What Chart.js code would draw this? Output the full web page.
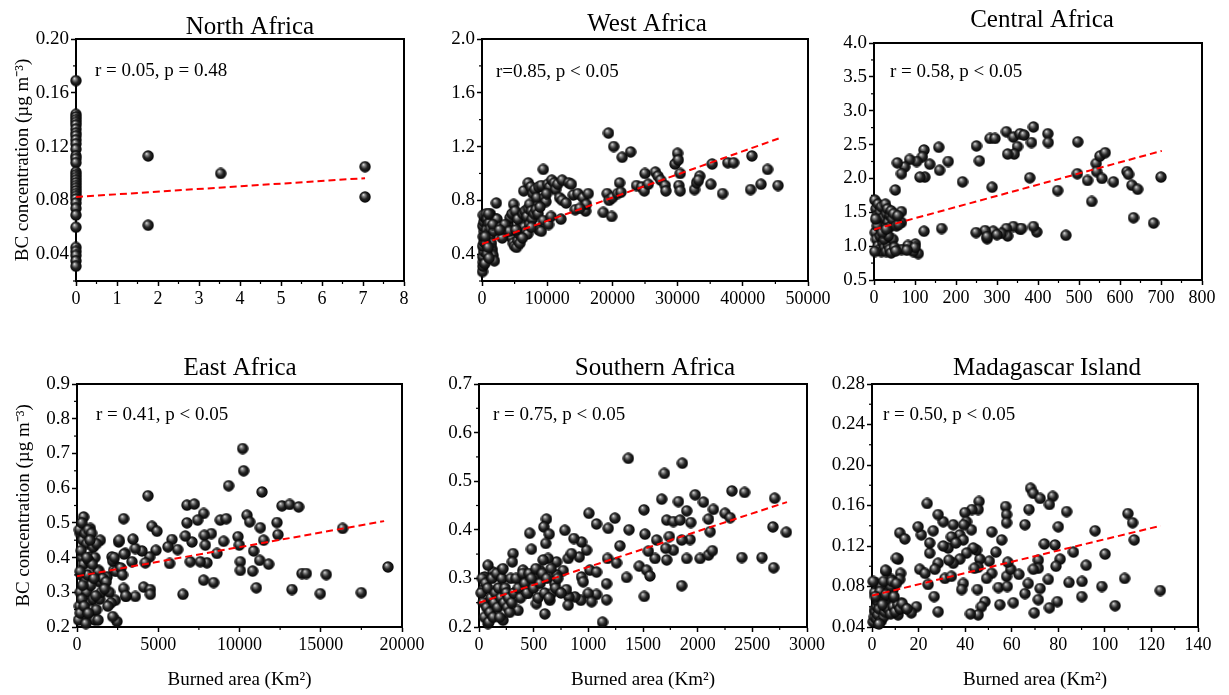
<!DOCTYPE html>
<html>
<head>
<meta charset="utf-8">
<script src="https://cdn.jsdelivr.net/npm/chart.js@4.4.1/dist/chart.umd.min.js"></script>
<style>
  body { margin: 0; background: #fff; width: 1229px; height: 695px; overflow: hidden; position: relative; }
  .panel { position: absolute; }
</style>
</head>
<body>
<div class="panel" id="w1"><canvas id="c1"></canvas></div>
<div class="panel" id="w2"><canvas id="c2"></canvas></div>
<div class="panel" id="w3"><canvas id="c3"></canvas></div>
<div class="panel" id="w4"><canvas id="c4"></canvas></div>
<div class="panel" id="w5"><canvas id="c5"></canvas></div>
<div class="panel" id="w6"><canvas id="c6"></canvas></div>
<script>
/* ---- data ---- */

// North Africa
const northArea = [0,0,0,0,0,0,0,0,0,0,
  0,0,0,0,0,0,0,0,0,0,
  0,0,0,0,0,0,0,0,0,0,
  0,0,0,0,0,
  1.76,1.76,3.53,7.05,7.05];
const northBC = [0.169,0.144,0.142,0.14,0.138,0.136,0.133,0.13,0.128,0.125,
  0.122,0.118,0.113,0.111,0.108,0.101,0.099,0.097,0.095,0.093,
  0.091,0.089,0.087,0.085,0.083,0.081,0.078,0.074,0.069,0.06,
  0.045,0.042,0.039,0.035,0.031,
  0.113,0.0615,0.100,0.105,0.0825];
const northFitArea = [0, 7.05];
const northFitBC = [0.0825, 0.0965];
const northXRange = [0, 8];
const northYRange = [0.02, 0.20];
const northXTicks = ['0','1','2','3','4','5','6','7','8'];
const northYTicks = ['0.04','0.08','0.12','0.16','0.20'];

// West Africa
const westArea = [80,150,200,120,250,100,300,180,350,120,
  280,450,200,650,800,900,700,1000,1280,1400,
  1150,1300,1250,1450,1500,1550,1700,1900,2100,2300,
  2200,1800,600,800,450,950,1100,1650,500,1000,
  2900,3300,3800,4000,4300,4600,4850,5100,4600,4800,
  5000,5300,5500,5700,5900,6100,5500,6300,6600,6900,
  7100,7300,7600,6500,6800,7000,7300,7700,8000,8300,
  8600,8700,9100,9400,6400,7100,7500,7800,8100,8400,
  8700,9100,9400,9600,9800,10100,10400,10700,11100,10200,
  10600,11300,11600,11900,12300,12300,12100,12900,13300,13700,
  14000,14300,14700,15500,15900,16300,16000,15000,18600,19900,
  19200,19500,20000,20800,21100,21300,19400,20200,21500,22800,
  23700,24500,24900,25000,25500,26600,27000,27400,28100,28200,
  29600,30000,30100,30400,30200,30400,32600,32900,33400,33200,
  35300,35100,36900,37700,38600,41200,41400,42800,43800,45400,
  3500,4200,5800,6200,7600,8900,9900,5200,3100,2700];
const westBC = [0.27,0.31,0.34,0.38,0.42,0.46,0.49,0.53,0.57,0.61,
  0.64,0.67,0.69,0.70,0.66,0.62,0.58,0.55,0.70,0.67,
  0.63,0.59,0.52,0.48,0.44,0.42,0.39,0.35,0.66,0.66,
  0.78,0.57,0.48,0.40,0.33,0.45,0.37,0.62,0.53,0.70,
  0.60,0.57,0.55,0.62,0.67,0.70,0.77,0.72,0.52,0.48,
  0.46,0.45,0.50,0.55,0.60,0.63,0.66,0.70,0.72,0.68,
  0.74,0.77,0.72,0.60,0.57,0.55,0.62,0.66,0.70,0.73,
  0.70,0.58,0.57,0.65,0.87,0.93,0.90,0.85,0.88,0.82,
  0.90,0.91,1.03,0.82,0.79,0.92,0.90,0.95,0.93,0.62,
  0.68,0.88,0.92,0.82,0.95,0.80,0.66,0.78,0.93,0.92,
  0.84,0.73,0.85,0.82,0.72,0.85,0.77,0.74,0.71,0.68,
  0.85,0.80,0.82,0.85,0.93,0.86,1.30,1.20,1.12,1.16,
  0.91,0.90,0.87,1.00,0.92,1.01,0.98,0.95,0.91,0.87,
  1.07,1.15,1.10,1.00,0.91,0.87,0.88,0.93,0.98,0.95,
  1.07,0.92,0.85,1.08,1.08,0.88,1.13,0.92,1.03,0.91,
  0.62,0.57,0.48,0.52,0.60,0.75,0.85,0.58,0.52,0.58];
const westFitArea = [0, 45500];
const westFitBC = [0.475, 1.26];
const westXRange = [0, 50000];
const westYRange = [0.2, 2.0];
const westXTicks = ['0','10000','20000','30000','40000','50000'];
const westYTicks = ['0.4','0.8','1.2','1.6','2.0'];

// Central Africa
const centralArea = [389,323,340,356,366,424,425,384,350,342,
  326,283,295,250,257,158,122,118,124,112,
  104,87,75,67,57,136,160,181,216,52,
  288,380,448,497,496,521,542,543,556,551,
  564,584,531,617,621,629,643,633,682,700,
  468,397,389,356,340,323,326,311,291,271,
  276,249,165,122,101,108,83,67,67,67,
  2,5,8,10,12,15,18,20,22,25,
  28,30,33,35,38,40,42,45,3,6,
  10,14,18,22,26,30,34,38,42,46,
  50,55,60,2,8,15,25,35,48,58,
  20,4,96,100,276,300,360,80,53,30];
const centralBC = [2.76,2.69,2.61,2.66,2.64,2.66,2.53,2.53,2.47,2.36,
  2.36,2.59,2.59,2.48,2.26,2.46,2.42,2.32,2.02,2.02,
  2.25,2.28,2.17,2.07,2.23,2.21,2.12,2.25,1.95,1.83,
  1.87,2.01,1.82,2.54,2.07,1.97,2.22,2.10,2.00,2.33,
  2.38,1.95,1.66,2.10,2.06,1.90,1.84,1.42,1.34,2.02,
  1.16,1.21,1.29,1.25,1.29,1.26,1.15,1.19,1.22,1.23,
  1.11,1.20,1.26,1.22,1.03,0.89,1.01,0.95,1.35,1.51,
  1.68,1.55,1.45,1.62,1.38,1.50,1.58,1.30,1.42,1.22,
  1.62,1.48,1.55,1.35,1.28,1.45,1.52,1.40,1.20,1.10,
  1.00,0.95,0.92,1.05,0.98,0.92,1.02,0.95,0.90,1.10,
  0.98,1.30,1.32,0.92,1.30,1.15,1.10,1.15,1.48,1.45,
  1.20,1.40,0.92,0.98,1.14,1.17,1.26,0.94,0.93,1.25];
const centralFitArea = [0, 702];
const centralFitBC = [1.247, 2.407];
const centralXRange = [0, 800];
const centralYRange = [0.5, 4.0];
const centralXTicks = ['0','100','200','300','400','500','600','700','800'];
const centralYTicks = ['0.5','1.0','1.5','2.0','2.5','3.0','3.5','4.0'];

// East Africa
const eastArea = [10195,10256,9333,11384,4369,2871,410,6768,7220,7794,
  7425,6768,8819,9188,10461,10625,12614,13086,13640,12306,
  11282,16347,12368,11486,9906,9988,10871,9024,8614,8266,
  7835,7076,6666,7897,8000,7589,6973,10051,10051,10810,
  11240,11794,11035,7794,8409,6522,6194,5845,5599,5701,
  4861,4615,4922,4471,4205,3999,3589,3446,3384,4102,
  4512,4512,3589,3015,2871,2974,2563,2461,2153,2256,
  2461,2358,1846,1436,1333,1231,1128,820,820,718,
  513,410,205,19136,17495,14972,15341,13845,14112,13229,
  100,150,200,250,300,350,150,300,500,600,
  700,900,1000,1100,1200,1300,1400,400,500,600,
  700,800,900,1000,1100,1200,1300,1400,1500,1600,
  1800,2000,2100,2200,2300,2400,2600,2700,2800,2900,
  3000,200,300,450,550,650,750,850,950,1050,
  1150,250,350,200,1700,1900,2200,600,700,800];
const eastBC = [0.714,0.650,0.607,0.589,0.578,0.512,0.517,0.551,0.554,0.527,
  0.508,0.500,0.508,0.512,0.522,0.503,0.549,0.553,0.546,0.501,
  0.486,0.484,0.466,0.450,0.460,0.436,0.419,0.447,0.412,0.469,
  0.464,0.445,0.462,0.436,0.385,0.388,0.388,0.388,0.363,0.361,
  0.392,0.381,0.313,0.335,0.328,0.294,0.423,0.452,0.431,0.383,
  0.421,0.490,0.476,0.402,0.385,0.419,0.426,0.453,0.388,0.315,
  0.308,0.294,0.288,0.288,0.311,0.412,0.445,0.373,0.402,0.363,
  0.216,0.277,0.344,0.450,0.363,0.287,0.248,0.484,0.402,0.315,
  0.267,0.229,0.469,0.373,0.299,0.296,0.351,0.354,0.354,0.308,
  0.22,0.26,0.30,0.35,0.40,0.45,0.48,0.50,0.47,0.44,
  0.48,0.47,0.43,0.40,0.44,0.36,0.33,0.38,0.33,0.30,
  0.27,0.23,0.25,0.28,0.22,0.25,0.22,0.28,0.30,0.34,
  0.33,0.30,0.27,0.39,0.40,0.36,0.45,0.37,0.35,0.41,
  0.29,0.24,0.28,0.26,0.21,0.35,0.39,0.32,0.38,0.34,
  0.29,0.42,0.32,0.36,0.31,0.26,0.23,0.40,0.24,0.45];
const eastFitArea = [0, 18900];
const eastFitBC = [0.346, 0.505];
const eastXRange = [0, 20000];
const eastYRange = [0.2, 0.9];
const eastXTicks = ['0','5000','10000','15000','20000'];
const eastYTicks = ['0.2','0.3','0.4','0.5','0.6','0.7','0.8','0.9'];

// Southern Africa
const southArea = [1366,1860,1696,1671,1824,1977,2053,2313,2429,2704,
  1509,1900,2144,2251,2297,2099,1717,1778,1839,1937,
  2114,2688,2811,2404,2588,2695,2022,2099,2135,1900,
  1931,1854,1741,1778,1708,1717,1610,1625,1854,1005,
  1075,1243,1182,1372,1518,1289,1549,1176,1258,1466,
  1533,1564,1350,1167,1512,1167,1130,1014,1075,1075,
  999,1030,984,938,868,785,917,938,953,932,
  877,822,816,816,846,800,770,709,709,693,
  663,648,617,593,642,611,632,587,556,510,
  464,480,602,525,449,403,373,357,312,305,
  235,205,174,128,82,52,37,220,113,82,
  20,30,40,50,60,70,80,90,100,110,
  120,130,140,150,160,170,180,190,200,210,
  220,230,240,250,260,270,280,290,300,320,
  340,360,380,400,420,440,460,480,500,520,
  540,560,580,600,620,640,660,700,720,750];
const southBC = [0.547,0.537,0.516,0.463,0.458,0.472,0.457,0.480,0.477,0.465,
  0.441,0.439,0.442,0.434,0.425,0.422,0.420,0.417,0.420,0.415,
  0.396,0.406,0.395,0.343,0.343,0.322,0.341,0.348,0.357,0.341,
  0.380,0.379,0.386,0.358,0.362,0.338,0.341,0.379,0.285,0.434,
  0.412,0.424,0.403,0.400,0.391,0.367,0.356,0.341,0.332,0.325,
  0.317,0.305,0.302,0.289,0.263,0.256,0.210,0.317,0.313,0.267,
  0.269,0.252,0.358,0.375,0.382,0.399,0.344,0.303,0.293,0.255,
  0.262,0.262,0.245,0.341,0.351,0.277,0.316,0.334,0.307,0.289,
  0.269,0.255,0.422,0.406,0.391,0.372,0.341,0.338,0.317,0.302,
  0.393,0.360,0.227,0.248,0.269,0.317,0.296,0.234,0.351,0.334,
  0.262,0.317,0.279,0.313,0.327,0.303,0.276,0.214,0.221,0.207,
  0.27,0.30,0.25,0.22,0.29,0.24,0.28,0.21,0.23,0.26,
  0.30,0.22,0.25,0.27,0.31,0.24,0.28,0.22,0.26,0.30,
  0.32,0.25,0.28,0.27,0.24,0.26,0.23,0.30,0.25,0.27,
  0.30,0.28,0.26,0.31,0.29,0.27,0.31,0.30,0.28,0.32,
  0.26,0.29,0.31,0.27,0.30,0.26,0.32,0.28,0.30,0.27];
const southFitArea = [0, 2817];
const southFitBC = [0.25, 0.457];
const southXRange = [0, 3000];
const southYRange = [0.2, 0.7];
const southXTicks = ['0','500','1000','1500','2000','2500','3000'];
const southYTicks = ['0.2','0.3','0.4','0.5','0.6','0.7'];

// Madagascar Island
const madArea = [68.1,69.3,72.2,77.6,76.2,67.4,46,23.7,83.6,109.9,
  111.9,112.6,57.4,57.8,57.8,65.7,80,95.8,100.1,92,
  86.5,80.8,79,78.6,74,71.4,71.4,69.3,75.7,67.1,
  84.6,90.2,98.7,108.5,123.8,104.4,90.1,79.6,76.2,69.7,
  71.4,72.2,65.7,60.7,54.9,54.3,58.1,57.8,59.6,63.1,
  58.3,53.2,55.7,51.4,50.4,51.4,49.2,46.3,44.9,43.5,
  45.6,45.3,48.5,47,45.6,42.3,45.6,42.9,39.9,40.6,
  42.7,39.4,37.7,39.2,40.6,39.2,38.5,37.7,34.9,34.9,
  34.1,32.7,30.6,30.6,28.4,28.4,27,31.3,34.1,24.8,
  24.8,26.3,21.2,19.8,20.5,22.8,24.1,26.7,28.4,19.1,
  16.9,14.1,12.6,11.2,11.9,14.1,11.2,12.3,11.9,8.3,
  6.2,6.9,9,4.7,3.3,1.9,1.1,1.1,1.9,4,
  0.5,1,1.5,2,2.5,3,3.5,0.5,1.5,2,
  2.5,3,4,5,5.5,6,6.5,7,7.5,8,
  5,6,7,8,9,10,11,12,13,15,
  3,4.5,9.5,8.5,10.5,5.8,10.5,36,33,44];
const madBC = [0.177,0.172,0.167,0.169,0.161,0.156,0.164,0.162,0.154,0.152,
  0.143,0.126,0.159,0.151,0.143,0.141,0.139,0.135,0.112,0.101,
  0.114,0.107,0.100,0.121,0.122,0.106,0.098,0.097,0.087,0.083,
  0.084,0.085,0.080,0.088,0.076,0.061,0.070,0.065,0.059,0.054,
  0.067,0.078,0.073,0.064,0.062,0.079,0.080,0.090,0.097,0.092,
  0.104,0.114,0.126,0.134,0.105,0.093,0.088,0.107,0.116,0.118,
  0.099,0.077,0.065,0.060,0.052,0.053,0.156,0.156,0.153,0.144,
  0.136,0.141,0.131,0.126,0.113,0.083,0.077,0.107,0.103,0.141,
  0.129,0.118,0.120,0.144,0.151,0.103,0.097,0.088,0.090,0.113,
  0.123,0.135,0.131,0.139,0.097,0.093,0.082,0.070,0.055,0.060,
  0.054,0.059,0.064,0.052,0.133,0.127,0.107,0.093,0.087,0.087,
  0.095,0.069,0.077,0.067,0.051,0.044,0.057,0.074,0.083,0.080,
  0.045,0.050,0.055,0.060,0.065,0.070,0.075,0.085,0.070,0.048,
  0.052,0.058,0.046,0.050,0.055,0.060,0.065,0.070,0.075,0.080,
  0.085,0.072,0.058,0.053,0.060,0.055,0.062,0.058,0.063,0.058,
  0.043,0.062,0.070,0.085,0.083,0.096,0.108,0.123,0.106,0.098];
const madFitArea = [0, 124];
const madFitBC = [0.071, 0.140];
const madXRange = [0, 140];
const madYRange = [0.04, 0.28];
const madXTicks = ['0','20','40','60','80','100','120','140'];
const madYTicks = ['0.04','0.08','0.12','0.16','0.20','0.24','0.28'];

/* ---- drawing ---- */
const SERIF = '"Liberation Serif", "Times New Roman", serif';
const Y_TITLE = 'BC concentration (µg m⁻³)';
const X_TITLE = 'Burned area (Km²)';

// shaded black ball used as point marker
function makeBall(d) {
  const c = document.createElement('canvas');
  c.width = c.height = d;
  const g = c.getContext('2d');
  const r = d / 2;
  const grad = g.createRadialGradient(r * 0.7, r * 0.6, 0, r, r, r);
  grad.addColorStop(0, '#f2f2f2');
  grad.addColorStop(0.22, '#8c8c8c');
  grad.addColorStop(0.55, '#262626');
  grad.addColorStop(1, '#000');
  g.fillStyle = grad;
  g.beginPath();
  g.arc(r, r, r - 0.3, 0, Math.PI * 2);
  g.fill();
  return c;
}
const ball = makeBall(12);

// frame, minor ticks and the r/p note
const panelDecor = {
  id: 'panelDecor',
  beforeDatasetsDraw(chart) {
    const {ctx, chartArea: a} = chart;
    ctx.save();
    ctx.strokeStyle = '#000';
    ctx.lineWidth = 1.2;
    ['x', 'y'].forEach(k => {
      const s = chart.scales[k];
      const vals = s.ticks.map(t => t.value);
      const half = (vals[1] - vals[0]) / 2;
      const minors = vals.map(v => v - half).concat(vals[vals.length - 1] + half);
      minors.forEach(v => {
        if (v < s.min - 1e-9 || v > s.max + 1e-9) return;
        const p = s.getPixelForValue(v);
        ctx.beginPath();
        if (k === 'x') { ctx.moveTo(p, a.bottom); ctx.lineTo(p, a.bottom + 3); }
        else { ctx.moveTo(a.left, p); ctx.lineTo(a.left - 3, p); }
        ctx.stroke();
      });
    });
    ctx.lineWidth = 2;
    ctx.strokeRect(a.left, a.top, a.right - a.left, a.bottom - a.top);
    ctx.restore();
  },
  afterDraw(chart, args, o) {
    const {ctx, chartArea: a} = chart;
    ctx.save();
    ctx.font = '19px ' + SERIF;
    ctx.fillStyle = '#000';
    ctx.textBaseline = 'middle';
    ctx.fillText(o.text, a.left + o.dx, a.top + o.dy);
    ctx.restore();
  }
};

const LEFT = 80, TOP = 45, BOTTOM = 70;

function makePanel(p) {
  const [pl, pt, pr, pb] = p.box;
  const wrap = document.getElementById(p.wrap);
  wrap.style.left = (pl - LEFT) + 'px';
  wrap.style.top = (pt - TOP) + 'px';
  wrap.style.width = (pr - pl + LEFT + p.rm) + 'px';
  wrap.style.height = (pb - pt + TOP + BOTTOM) + 'px';

  const pts = p.area.map((x, i) => ({x: x, y: p.bc[i]}));
  const fit = p.fitArea.map((x, i) => ({x: x, y: p.fitBC[i]}));

  const axisCommon = {
    type: 'linear',
    bounds: 'data',
    grid: { drawOnChartArea: false, drawTicks: true, tickLength: 5, tickWidth: 1.5, tickColor: '#000' },
    border: { display: true, color: '#000', width: 2 }
  };

  new Chart(document.getElementById(p.canvas), {
    type: 'scatter',
    data: {
      datasets: [
        {
          data: fit, showLine: true, order: 0,
          borderColor: '#ff0000', borderWidth: 2, borderDash: [7, 4],
          pointRadius: 0, fill: false
        },
        {
          data: pts, order: 1, clip: false,
          pointStyle: ball, pointRadius: 6
        }
      ]
    },
    options: {
      responsive: true,
      maintainAspectRatio: false,
      animation: false,
      devicePixelRatio: 1,
      layout: { padding: 0, autoPadding: false },
      plugins: {
        legend: { display: false },
        tooltip: { enabled: false },
        title: {
          display: true, text: p.title, color: '#000',
          font: { family: SERIF, size: 25, weight: 'normal', lineHeight: 0.9 },
          padding: { top: TOP - p.titleGap - 11.25, bottom: p.titleGap - 11.25 }
        },
        panelDecor: { text: p.stat, dx: p.statAt[0], dy: p.statAt[1] }
      },
      scales: {
        x: Object.assign({}, axisCommon, {
          position: 'bottom',
          min: p.xRange[0], max: p.xRange[1],
          afterBuildTicks: s => { s.ticks = p.xTicks.map(t => ({value: parseFloat(t)})); },
          afterFit: s => { s.height = BOTTOM; },
          ticks: {
            color: '#000', font: { family: SERIF, size: 18 }, padding: 2,
            maxRotation: 0, autoSkip: false,
            callback: (v, i) => p.xTicks[i]
          },
          title: {
            display: p.xTitle, text: X_TITLE, color: '#000',
            font: { family: SERIF, size: 19 }, padding: { top: 0, bottom: 6 }
          }
        }),
        y: Object.assign({}, axisCommon, {
          position: 'left',
          min: p.yRange[0], max: p.yRange[1],
          afterBuildTicks: s => { s.ticks = p.yTicks.map(t => ({value: parseFloat(t)})); },
          afterFit: s => { s.width = LEFT; },
          ticks: {
            color: '#000', font: { family: SERIF, size: 19 }, padding: 2,
            autoSkip: false,
            callback: (v, i) => p.yTicks[i]
          },
          title: {
            display: p.yTitle, text: Y_TITLE, color: '#000',
            font: { family: SERIF, size: 19 }, padding: { top: 16, bottom: 0 }
          }
        }),
        // empty right-hand axis, only reserves room so the title stays centred
        spare: {
          type: 'linear', position: 'right', display: true,
          grid: { display: false }, border: { display: false },
          ticks: { display: false },
          afterFit: s => { s.width = p.rm; }
        }
      }
    },
    plugins: [panelDecor]
  });
}

const panels = [
  { wrap: 'w1', canvas: 'c1', title: 'North Africa', stat: 'r = 0.05, p = 0.48',
    area: northArea, bc: northBC, fitArea: northFitArea, fitBC: northFitBC,
    xRange: northXRange, yRange: northYRange, xTicks: northXTicks, yTicks: northYTicks,
    box: [76, 39, 404, 281], rm: 100, titleGap: 12, statAt: [19, 32], yTitle: true, xTitle: false },
  { wrap: 'w2', canvas: 'c2', title: 'West Africa', stat: 'r=0.85, p < 0.05',
    area: westArea, bc: westBC, fitArea: westFitArea, fitBC: westFitBC,
    xRange: westXRange, yRange: westYRange, xTicks: westXTicks, yTicks: westYTicks,
    box: [482, 39, 808, 281], rm: 84, titleGap: 15, statAt: [14, 33], yTitle: false, xTitle: false },
  { wrap: 'w3', canvas: 'c3', title: 'Central Africa', stat: 'r = 0.58, p < 0.05',
    area: centralArea, bc: centralBC, fitArea: centralFitArea, fitBC: centralFitBC,
    xRange: centralXRange, yRange: centralYRange, xTicks: centralXTicks, yTicks: centralYTicks,
    box: [874, 43, 1202, 280], rm: 88, titleGap: 23, statAt: [16, 29], yTitle: false, xTitle: false },
  { wrap: 'w4', canvas: 'c4', title: 'East Africa', stat: 'r = 0.41, p < 0.05',
    area: eastArea, bc: eastBC, fitArea: eastFitArea, fitBC: eastFitBC,
    xRange: eastXRange, yRange: eastYRange, xTicks: eastXTicks, yTicks: eastYTicks,
    box: [77, 384, 402, 627], rm: 81, titleGap: 16, statAt: [19, 31], yTitle: true, xTitle: true },
  { wrap: 'w5', canvas: 'c5', title: 'Southern Africa', stat: 'r = 0.75, p < 0.05',
    area: southArea, bc: southBC, fitArea: southFitArea, fitBC: southFitBC,
    xRange: southXRange, yRange: southYRange, xTicks: southXTicks, yTicks: southYTicks,
    box: [479, 384, 807, 627], rm: 104, titleGap: 16, statAt: [14, 31], yTitle: false, xTitle: true },
  { wrap: 'w6', canvas: 'c6', title: 'Madagascar Island', stat: 'r = 0.50, p < 0.05',
    area: madArea, bc: madBC, fitArea: madFitArea, fitBC: madFitBC,
    xRange: madXRange, yRange: madYRange, xTicks: madXTicks, yTicks: madYTicks,
    box: [872, 384, 1198, 627], rm: 104, titleGap: 16, statAt: [11, 31], yTitle: false, xTitle: true }
];

panels.forEach(makePanel);
</script>
</body>
</html>
